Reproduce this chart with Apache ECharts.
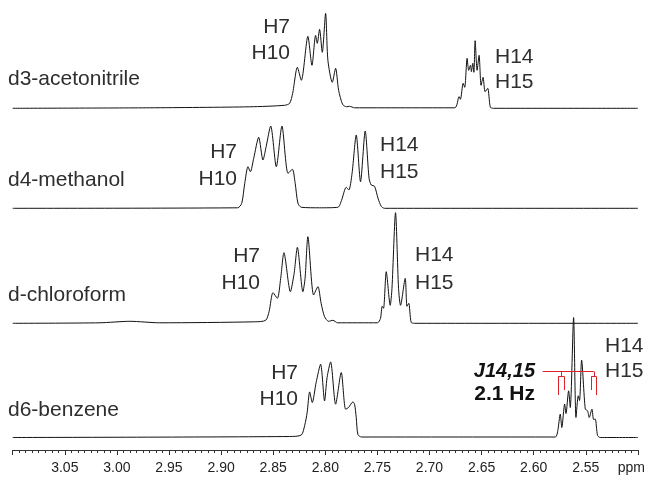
<!DOCTYPE html>
<html><head><meta charset="utf-8">
<script src="https://cdn.jsdelivr.net/npm/echarts@6/dist/echarts.min.js"></script>
<style>html,body{margin:0;padding:0;background:#fff}#c{width:648px;height:478px}</style>
</head><body><div id="c"></div>
<script>
const solvents = ['d3-acetonitrile', 'd4-methanol', 'd-chloroform', 'd6-benzene'];
const tickLabels = ['3.05','3.00','2.95','2.90','2.85','2.80','2.75','2.70','2.65','2.60','2.55'];
const unitLabel = 'ppm';

// [ppm, intensity]
const acetonitrile = [
  [3.100,0],[2.9684,0.5],[2.8726,1.5],[2.8390,3],[2.8342,5],[2.8313,15],[2.8268,41],[2.8230,28],
  [2.8167,72],[2.8128,43],[2.8093,73],[2.8077,65],[2.8055,79],[2.8029,56],[2.7997,95],[2.7975,48],
  [2.7933,26],[2.7901,40],[2.7872,18],[2.7834,4],[2.7796,1.5],[2.7767,2],[2.7719,0.5],[2.6758,0.5],
  [2.6716,11.6],[2.6703,9],[2.6677,25],[2.6662,21],[2.6639,50],[2.6624,38],[2.6607,43],[2.6598,36.6],
  [2.6585,45],[2.6574,36],[2.6562,67.6],[2.6543,38],[2.6524,53],[2.6505,23],[2.6486,31],[2.6466,16.6],
  [2.6441,20],[2.6416,1],[2.6387,0],[2.500,0]
];
const methanol = [
  [3.100,0],[2.8841,0.5],[2.8802,5],[2.8773,25],[2.8742,41.6],[2.8719,36.6],[2.8687,50],[2.8639,71],
  [2.8598,48.3],[2.8567,62],[2.8524,82.3],[2.8470,41.6],[2.8416,82.3],[2.8358,35],[2.8316,39],[2.8289,25],
  [2.8263,5.3],[2.8230,1],[2.8055,0.5],[2.7879,1],[2.7844,8],[2.7799,21],[2.7774,18.3],[2.7743,35],
  [2.7703,73.3],[2.7662,26.6],[2.7617,77.3],[2.7580,30],[2.7559,23.3],[2.7527,22],[2.7494,10],[2.7463,2],
  [2.7432,0],[2.500,0]
];
const chloroform = [
  [3.100,0],[3.0163,0.5],[2.9876,2],[2.9588,0.5],[2.8678,1.5],[2.8572,3],[2.8539,12],[2.8502,30.6],
  [2.8460,25],[2.8428,45],[2.8397,70.6],[2.8335,31.6],[2.8299,50],[2.8268,76],[2.8215,31.6],[2.8194,45],
  [2.8167,86.6],[2.8112,28.3],[2.8071,36.6],[2.8040,20],[2.8007,6.6],[2.7968,2],[2.7927,3],[2.7882,0.5],
  [2.7499,0.5],[2.7470,5],[2.7454,17],[2.7441,15],[2.7415,51.6],[2.7377,18],[2.7360,35],[2.7326,110.6],
  [2.7297,35],[2.7278,18],[2.7233,45],[2.7216,17],[2.7199,20],[2.7176,1],[2.7144,0],[2.500,0]
];
const benzene = [
  [3.100,0],[2.8342,1],[2.8230,2.5],[2.8198,12],[2.8174,25],[2.8150,45.6],[2.8125,35],[2.8088,55],
  [2.8045,73.3],[2.8007,36.6],[2.7983,60],[2.7949,75.6],[2.7901,33.3],[2.7847,65],[2.7805,28.3],[2.7777,30],
  [2.7735,35.6],[2.7719,33.3],[2.7703,20],[2.7687,3],[2.7652,0.5],[2.5792,0.5],[2.5770,6],[2.5745,23.4],
  [2.5730,10],[2.5703,33.4],[2.5690,24],[2.5665,46.7],[2.5649,30],[2.5617,120],[2.5594,20],[2.5572,41.7],
  [2.5560,37],[2.5540,77.4],[2.5505,28.4],[2.5483,26.7],[2.5467,20],[2.5441,28.4],[2.5425,18],[2.5409,18.4],
  [2.5387,2],[2.5361,0],[2.500,0]
];
const spectra = [acetonitrile, methanol, chloroform, benzene];

// layout (baseline offsets in axis units, where 0 is the ppm axis line)
const offsets = [341.7, 241.7, 126.7, 12.5];

// J coupling tree (ppm, axis units measured from the ppm axis line)
const jTree = [
  [[2.5914,78.5],[2.5423,78.5]],
  [[2.5735,78.5],[2.5735,73.5]],
  [[2.5423,78.5],[2.5423,73.5]],
  [[2.5764,73.5],[2.5706,73.5]],
  [[2.5764,73.5],[2.5764,55]],
  [[2.5706,73.5],[2.5706,60]],
  [[2.5447,73.5],[2.5399,73.5]],
  [[2.5447,73.5],[2.5447,60]],
  [[2.5399,73.5],[2.5399,55]]
];

const FONT = '"Liberation Sans", Arial, Helvetica, sans-serif';
const TXT = '#2e2e2e';

function txt(s, x, y, align, font, fill) {
  return { type: 'text', x: x, y: y, z: 10,
    style: { text: s, align: align, verticalAlign: 'middle', font: font || ('21px ' + FONT), fill: fill || TXT } };
}

const labelsPos = [
  [solvents[0], 8, 79.5, 'left'], [solvents[1], 8, 180, 'left'], [solvents[2], 8, 295, 'left'], [solvents[3], 8, 410, 'left'],
  ['H7', 290, 27, 'right'], ['H10', 290, 53.3, 'right'], ['H14', 495, 57, 'left'], ['H15', 495, 82, 'left'],
  ['H7', 237, 152.2, 'right'], ['H10', 237, 178.8, 'right'], ['H14', 380, 145.5, 'left'], ['H15', 380, 172.5, 'left'],
  ['H7', 260, 256, 'right'], ['H10', 260, 283, 'right'], ['H14', 415, 255.5, 'left'], ['H15', 415, 283, 'left'],
  ['H7', 298, 373, 'right'], ['H10', 298, 399.5, 'right'], ['H14', 605, 346, 'left'], ['H15', 605, 371, 'left']
];
const graphics = labelsPos.map(l => txt(l[0], l[1], l[2], l[3]));
graphics.push(txt('J14,15', 535, 371.3, 'right', 'italic bold 20px ' + FONT, '#111'));
graphics.push(txt('2.1 Hz', 535, 394.5, 'right', 'bold 21px ' + FONT, '#111'));

const series = spectra.map((arr, i) => ({
  type: 'line',
  data: arr.map(p => [p[0], p[1] + offsets[i]]),
  showSymbol: false,
  smooth: 0.25,
  lineStyle: { color: '#111', width: 1 },
  silent: true,
  clip: false,
  z: 2
}));
series.push({
  type: 'lines',
  coordinateSystem: 'cartesian2d',
  silent: true,
  z: 20,
  polyline: false,
  lineStyle: { color: '#e0202a', width: 1, opacity: 1, type: 'solid', curveness: 0 },
  data: jTree.map(seg => ({ coords: [seg[0], seg[1]] }))
});

const chart = echarts.init(document.getElementById('c'));
chart.setOption({
  animation: false,
  backgroundColor: '#fff',
  grid: { left: 12.7, right: 9.3, top: 0, bottom: 28 },
  xAxis: {
    type: 'value', min: 2.5, max: 3.1, interval: 0.05, inverse: true,
    axisLine: { show: true, onZero: false, lineStyle: { color: '#333', width: 1 } },
    axisTick: { show: true, inside: false, length: 5, lineStyle: { color: '#333' } },
    minorTick: { show: true, splitNumber: 8, length: 3, lineStyle: { color: '#333' } },
    splitLine: { show: false },
    axisLabel: {
      margin: 11, color: '#222', fontSize: 14, fontFamily: FONT,
      showMinLabel: true, showMaxLabel: true,
      formatter: v => {
        const s = v.toFixed(2);
        if (Math.abs(v - 2.5) < 1e-6) return '{u|' + unitLabel + '}';
        return tickLabels.indexOf(s) >= 0 ? s : '';
      },
      rich: { u: { fontSize: 14, fontFamily: FONT, color: '#222', padding: [0, 13, 0, 0] } }
    }
  },
  yAxis: { type: 'value', min: 0, max: 450, show: false },
  series: series,
  graphic: graphics
});
</script></body></html>
